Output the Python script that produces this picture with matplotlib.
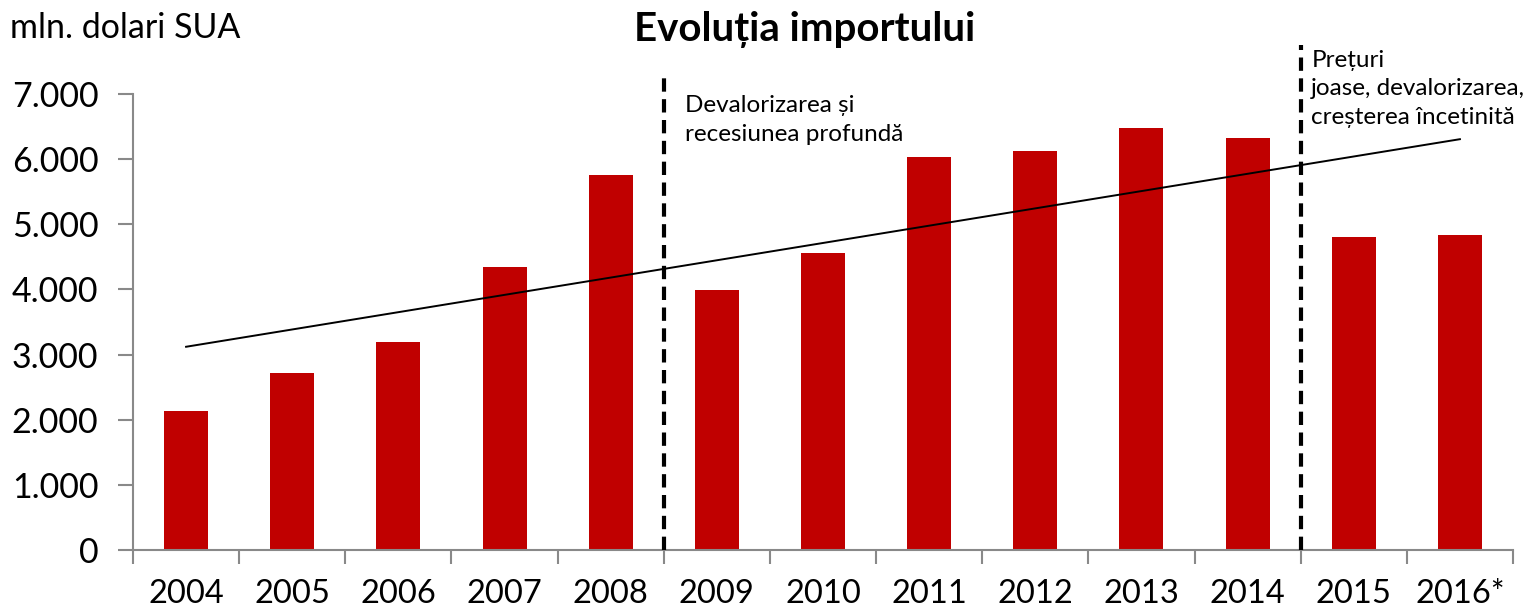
import matplotlib.pyplot as plt
import numpy as np

ani = ['2004', '2005', '2006', '2007', '2008', '2009', '2010',
       '2011', '2012', '2013', '2014', '2015', '2016*']
import_val = [2130, 2720, 3190, 4345, 5750, 3990, 4560,
              6030, 6120, 6480, 6320, 4805, 4830]
yticks = [0, 1000, 2000, 3000, 4000, 5000, 6000, 7000]
ytick_labels = ['0', '1.000', '2.000', '3.000', '4.000', '5.000', '6.000', '7.000']

plt.rcParams['font.family'] = ['Lato', 'DejaVu Sans']

fig = plt.figure(figsize=(15.36, 6.13), dpi=100)
ax = fig.add_axes([133 / 1536, 1 - 550 / 613, 1380 / 1536, 456 / 613])

x = np.arange(len(ani))
ax.bar(x, import_val, width=0.415, color='#c00000', zorder=2)

# linie de tendinta (liniara, ca in Excel)
k, b = np.polyfit(x, import_val, 1)
ax.plot([x[0], x[-1]], [k * x[0] + b, k * x[-1] + b], color='black', lw=1.4, zorder=3)

# liniile punctate care separa perioadele
ax.plot([4.5, 4.5], [0, 7340], color='black', lw=3, ls=(0, (3.2, 1.8)), clip_on=False, zorder=4)
ax.plot([10.5, 10.5], [0, 7750], color='black', lw=3, ls=(0, (3.2, 1.8)), clip_on=False, zorder=4)

ax.text(4.7, 6600, 'Devalorizarea și\nrecesiunea profundă', fontsize=17.5,
        va='center', ha='left', linespacing=1.42)
ax.text(10.6, 7077, 'Prețuri\njoase, devalorizarea,\ncreșterea încetinită', fontsize=17.5,
        va='center', ha='left', linespacing=1.42, clip_on=False)

ax.set_xlim(-0.5, len(ani) - 0.5)
ax.set_ylim(0, 7000)
ax.set_yticks(yticks)
ax.set_yticklabels(ytick_labels, fontsize=24.5)
ax.set_xticks(x)
ax.set_xticklabels(ani, fontsize=23.5)
ax.set_xticks(np.arange(-0.5, len(ani)), minor=True)
ax.tick_params(axis='x', which='major', length=0, pad=21)
ax.tick_params(axis='x', which='minor', length=10, color='#898989', width=1.5)
ax.tick_params(axis='y', length=11, color='#898989', width=1.5, pad=14)

for s in ['top', 'right']:
    ax.spines[s].set_visible(False)
for s in ['left', 'bottom']:
    ax.spines[s].set_color('#898989')
    ax.spines[s].set_linewidth(1.5)

fig.text(805 / 1536, 1 - 30 / 613, 'Evoluția importului', fontsize=29, fontweight='bold',
         ha='center', va='center')
fig.text(10 / 1536, 1 - 28 / 613, 'mln. dolari SUA', fontsize=24.5, ha='left', va='center')

plt.savefig('out.png', dpi=100)
